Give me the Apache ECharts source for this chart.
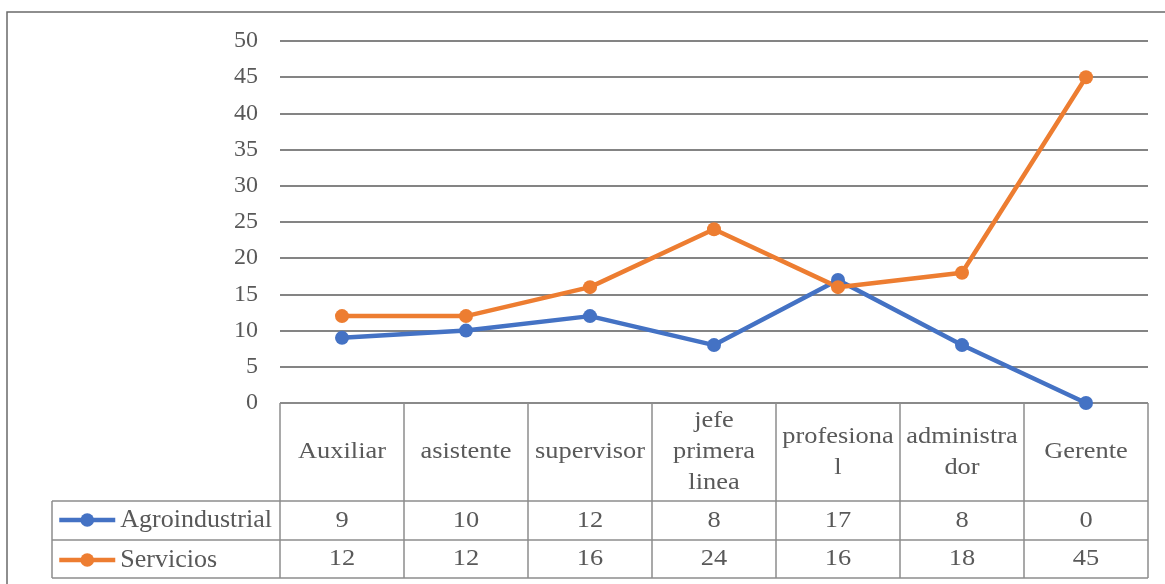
<!DOCTYPE html>
<html>
<head>
<meta charset="utf-8">
<script src="https://cdn.jsdelivr.net/npm/echarts@6/dist/echarts.min.js"></script>
<style>
  html, body { margin: 0; padding: 0; background: #ffffff; }
  #chart { width: 1165px; height: 584px; }
</style>
</head>
<body>
<div id="chart"></div>
<script>
// Categories (as wrapped in the data table header)
const categories = ['Auxiliar', 'asistente', 'supervisor', 'jefe\nprimera\nlinea', 'profesiona\nl', 'administra\ndor', 'Gerente'];
const seriesNames = ['Agroindustrial', 'Servicios'];
const agroindustrial = [9, 10, 12, 8, 17, 8, 0];
const servicios = [12, 12, 16, 24, 16, 18, 45];
const yTicks = [0, 5, 10, 15, 20, 25, 30, 35, 40, 45, 50];

const FONT = "'Liberation Serif', 'Times New Roman', serif";
const TEXT = '#595959';
const GRID_LINE = '#5b5b5b';
const TABLE_LINE = '#8c8c8c';
const BLUE = '#4472C4';
const ORANGE = '#ED7D31';
const TEXT_STRETCH = 1.1;

const chart = echarts.init(document.getElementById('chart'), null, { renderer: 'canvas' });

const option = {
  backgroundColor: '#ffffff',
  animation: false,
  grid: { left: 280, right: 17, top: 41, bottom: 181, containLabel: false },
  xAxis: {
    type: 'category',
    data: categories,
    boundaryGap: true,
    axisLine: { show: false },
    axisTick: { show: false },
    axisLabel: { show: false },
    splitLine: { show: false }
  },
  yAxis: {
    type: 'value',
    min: yTicks[0],
    max: yTicks[yTicks.length - 1],
    interval: 5,
    axisLine: { show: false },
    axisTick: { show: false },
    axisLabel: { color: TEXT, fontFamily: FONT, fontSize: 24, margin: 22 },
    splitLine: { lineStyle: { color: GRID_LINE, width: 1.5 } }
  },
  legend: {
    orient: 'vertical',
    left: 57,
    top: 507,
    padding: 0,
    itemWidth: 56,
    itemHeight: 17,
    itemGap: 14,
    data: seriesNames,
    lineStyle: { width: 4.5 },
    textStyle: { color: TEXT, fontFamily: FONT, fontSize: 26, lineHeight: 24 }
  },
  series: [
    {
      name: seriesNames[0],
      type: 'line',
      data: agroindustrial,
      symbol: 'circle',
      symbolSize: 14,
      itemStyle: { color: BLUE },
      lineStyle: { color: BLUE, width: 4.5 }
    },
    {
      name: seriesNames[1],
      type: 'line',
      data: servicios,
      symbol: 'circle',
      symbolSize: 14,
      itemStyle: { color: ORANGE },
      lineStyle: { color: ORANGE, width: 4.5 }
    }
  ]
};

chart.setOption(option);

// Data table beneath the plot, laid out from the category axis positions
function buildTable() {
  const n = categories.length;
  const x0 = chart.convertToPixel({ xAxisIndex: 0 }, 0);
  const x1 = chart.convertToPixel({ xAxisIndex: 0 }, 1);
  const colW = x1 - x0;
  const left = x0 - colW / 2;
  const right = left + colW * n;
  const top = chart.convertToPixel({ yAxisIndex: 0 }, 0);
  const headerH = 98;
  const rowH = [39, 38];
  const legendLeft = 52;
  const rowTops = [top + headerH, top + headerH + rowH[0]];
  const bottom = rowTops[1] + rowH[1];
  const line = (xa, ya, xb, yb, color, w) => ({
    type: 'line',
    shape: { x1: xa, y1: ya, x2: xb, y2: yb },
    style: { stroke: color, lineWidth: w },
    silent: true
  });
  const els = [];

  // outer chart frame
  els.push({
    type: 'rect',
    shape: { x: 7, y: 12, width: 1200, height: 620 },
    style: { fill: null, stroke: '#6a6a6a', lineWidth: 1.5 },
    silent: true
  });

  // horizontal table rules
  els.push(line(left, top, right, top, TABLE_LINE, 1.5));
  els.push(line(legendLeft, rowTops[0], right, rowTops[0], TABLE_LINE, 1.5));
  els.push(line(legendLeft, rowTops[1], right, rowTops[1], TABLE_LINE, 1.5));
  els.push(line(legendLeft, bottom, right, bottom, TABLE_LINE, 1.5));
  // vertical table rules
  els.push(line(legendLeft, rowTops[0], legendLeft, bottom, TABLE_LINE, 1.5));
  for (let i = 0; i <= n; i++) {
    const x = left + colW * i;
    els.push(line(x, top, x, bottom, TABLE_LINE, 1.5));
  }

  const rows = [agroindustrial, servicios];
  for (let i = 0; i < n; i++) {
    const cx = left + colW * (i + 0.5);
    els.push({
      type: 'text',
      x: cx, y: top + headerH / 2,
      scaleX: TEXT_STRETCH,
      style: {
        text: categories[i], fill: TEXT, font: '24px ' + FONT,
        align: 'center', verticalAlign: 'middle', lineHeight: 31
      },
      silent: true
    });
    rows.forEach((vals, r) => {
      els.push({
        type: 'text',
        x: cx, y: rowTops[r] + rowH[r] / 2,
        scaleX: TEXT_STRETCH,
        style: {
          text: String(vals[i]), fill: TEXT, font: '24px ' + FONT,
          align: 'center', verticalAlign: 'middle'
        },
        silent: true
      });
    });
  }
  chart.setOption({ graphic: { elements: els } });
}
buildTable();
</script>
</body>
</html>
